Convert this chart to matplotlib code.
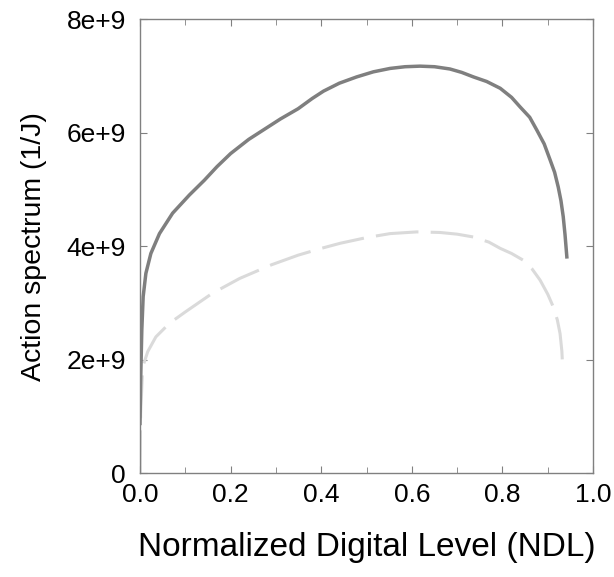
import numpy as np
import matplotlib
matplotlib.use("Agg")
import matplotlib.pyplot as plt
from matplotlib.ticker import MultipleLocator

# Action spectrum vs normalized digital level (values in 1e9 1/J)
solid_x = [0.0, 0.0015, 0.004, 0.007, 0.013, 0.024, 0.043, 0.072, 0.109, 0.142,
           0.17, 0.20, 0.24, 0.275, 0.31, 0.349, 0.38, 0.405, 0.44, 0.478,
           0.515, 0.552, 0.585, 0.618, 0.65, 0.684, 0.71, 0.736, 0.765, 0.795,
           0.82, 0.839, 0.86, 0.876, 0.892, 0.905, 0.915, 0.923, 0.929, 0.934,
           0.938, 0.942]
solid_y = [0.875, 1.64, 2.52, 3.11, 3.52, 3.87, 4.22, 4.58, 4.90, 5.16,
           5.40, 5.63, 5.88, 6.06, 6.24, 6.42, 6.60, 6.73, 6.87, 6.98,
           7.07, 7.13, 7.16, 7.17, 7.16, 7.12, 7.06, 6.98, 6.90, 6.78,
           6.62, 6.45, 6.27, 6.04, 5.80, 5.52, 5.30, 5.04, 4.80, 4.52,
           4.20, 3.81]

dashed_x = [0.0, 0.0015, 0.006, 0.017, 0.035, 0.065, 0.10, 0.16, 0.22, 0.29,
            0.349, 0.40, 0.442, 0.50, 0.552, 0.611, 0.662, 0.70, 0.736, 0.77,
            0.795, 0.82, 0.846, 0.865, 0.883, 0.90, 0.912, 0.921, 0.927, 0.931,
            0.933]
dashed_y = [0.0, 1.05, 1.87, 2.14, 2.40, 2.64, 2.84, 3.17, 3.43, 3.67,
            3.84, 3.96, 4.05, 4.15, 4.22, 4.25, 4.24, 4.21, 4.16, 4.07,
            3.96, 3.87, 3.75, 3.60, 3.40, 3.15, 2.93, 2.70, 2.46, 2.15,
            1.84]

x_ticks = [0.0, 0.2, 0.4, 0.6, 0.8, 1.0]
x_tick_labels = ["0.0", "0.2", "0.4", "0.6", "0.8", "1.0"]
y_ticks = [0, 2e9, 4e9, 6e9, 8e9]
y_tick_labels = ["0", "2e+9", "4e+9", "6e+9", "8e+9"]


def main():
    plt.rcParams['font.family'] = ['Liberation Sans', 'DejaVu Sans']

    fig = plt.figure(figsize=(6.14, 5.77), dpi=100)
    ax = fig.add_axes([0.228, 0.180, 0.738, 0.787])

    ax.plot(dashed_x, np.array(dashed_y) * 1e9, color='#dadada', lw=2.2,
            dashes=(14, 4), solid_capstyle='butt', dash_capstyle='butt')
    ax.plot(solid_x, np.array(solid_y) * 1e9, color='#7f7f7f', lw=2.5)

    ax.set_xlim(0, 1.0)
    ax.set_ylim(0, 8e9)
    ax.set_xticks(x_ticks, x_tick_labels)
    ax.set_yticks(y_ticks, y_tick_labels)
    ax.xaxis.set_minor_locator(MultipleLocator(0.1))

    for side in ['left', 'right', 'top', 'bottom']:
        ax.spines[side].set_color('#808080')
        ax.spines[side].set_linewidth(1.0)

    ax.tick_params(axis='both', which='both', direction='in', top=True, right=True,
                   color='#808080', labelsize=19)
    ax.tick_params(axis='both', which='major', length=5)
    ax.tick_params(axis='both', which='minor', length=4)
    ax.tick_params(axis='x', pad=7)
    ax.tick_params(axis='y', pad=10)

    ax.set_xlabel('Normalized Digital Level (NDL)', fontsize=24, labelpad=18)
    ax.set_ylabel('Action spectrum (1/J)', fontsize=20.5, labelpad=14)

    fig.savefig('out.png', dpi=100)


if __name__ == '__main__':
    main()
